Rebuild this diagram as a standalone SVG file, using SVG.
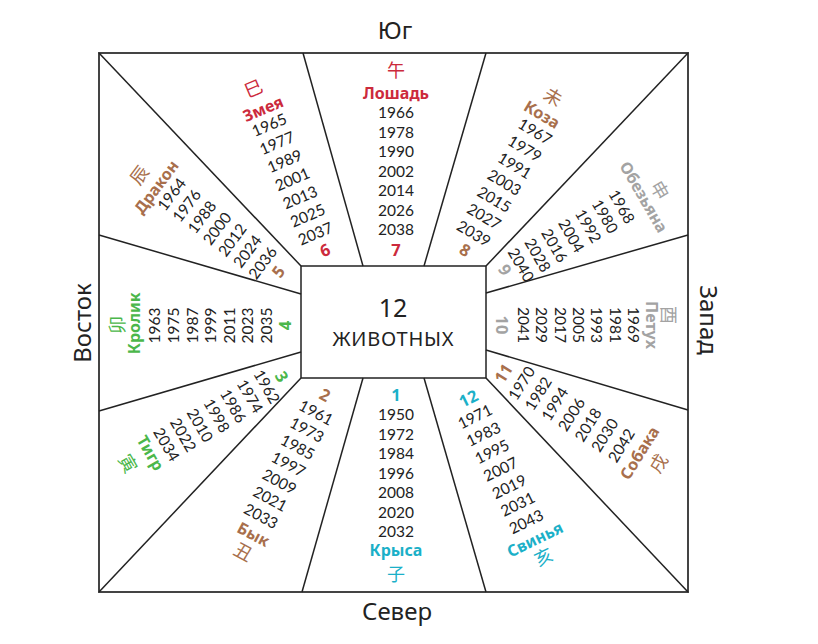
<svg xmlns="http://www.w3.org/2000/svg" width="818" height="644" viewBox="0 0 818 644">
<style>
text{font-family:"Noto Sans","Open Sans","DejaVu Sans",sans-serif;text-anchor:middle;fill:#222}
.yr{font-family:Lato,"Noto Sans",sans-serif;font-size:15.5px}
.nm{font-size:16px;font-weight:700}
.num{font-size:16.5px;font-weight:700}
.cjk{font-family:"Noto Sans CJK SC","Noto Sans CJK JP",sans-serif;font-size:18px}
.side{font-size:24px}
.red{fill:#cc2a3c}
.brown{fill:#a86f4c}
.green{fill:#4bb74a}
.gray{fill:#a3a3a3}
.cyan{fill:#1bb0c8}
.ln{stroke:#222;stroke-width:1.5;fill:none}
</style>
<rect width="818" height="644" fill="#fff"/>
<g id="connectors">
<rect x="99" y="53" width="589" height="539" fill="none" stroke="#444" stroke-width="2"/>
<rect x="301" y="266" width="185" height="112" class="ln"/>
<line class="ln" x1="99" y1="53" x2="301" y2="266"/>
<line class="ln" x1="303" y1="53" x2="363" y2="266"/>
<line class="ln" x1="486" y1="53" x2="424" y2="266"/>
<line class="ln" x1="688" y1="53" x2="486" y2="266"/>
<line class="ln" x1="688" y1="235" x2="486" y2="293"/>
<line class="ln" x1="688" y1="410" x2="486" y2="350"/>
<line class="ln" x1="688" y1="592" x2="486" y2="378"/>
<line class="ln" x1="486" y1="592" x2="424" y2="378"/>
<line class="ln" x1="302" y1="592" x2="363" y2="378"/>
<line class="ln" x1="99" y1="592" x2="301" y2="378"/>
<line class="ln" x1="99" y1="411" x2="301" y2="352"/>
<line class="ln" x1="99" y1="235" x2="301" y2="294"/>
</g>
<g id="labels">
<text class="side" x="395" y="39">Юг</text>
<text class="side" x="397" y="620">Север</text>
<text class="side" transform="translate(91,323) rotate(-90)">Восток</text>
<text class="side" transform="translate(700,320) rotate(90)">Запад</text>
</g>
<g id="center">
<text x="393" y="317" font-size="25">12</text>
<text x="393" y="346" font-size="20" textLength="121" lengthAdjust="spacing">ЖИВОТНЫХ</text>
</g>
<g id="horse" transform="translate(396,112.7)">
<text class="cjk red" y="-35.9">午</text>
<text class="nm red" y="-14.2">Лошадь</text>
<text class="yr" y="5.4">1966</text>
<text class="yr" y="24.95">1978</text>
<text class="yr" y="44.5">1990</text>
<text class="yr" y="64.05">2002</text>
<text class="yr" y="83.6">2014</text>
<text class="yr" y="103.15">2026</text>
<text class="yr" y="122.7">2038</text>
<text class="num red" y="143.8">7</text>
</g>
<g id="snake" transform="translate(269.3,125) rotate(-23)">
<text class="cjk red" x="-0.4" y="-33.3">巳</text>
<text class="nm red" x="0.6" y="-11.6">Змея</text>
<text class="yr" y="5.4">1965</text>
<text class="yr" y="25.1">1977</text>
<text class="yr" y="44.8">1989</text>
<text class="yr" y="64.5">2001</text>
<text class="yr" y="84.2">2013</text>
<text class="yr" y="103.9">2025</text>
<text class="yr" y="123.6">2037</text>
<text class="num red" x="2.4" y="142.9">6</text>
</g>
<g id="dragon" transform="translate(171.7,194.3) rotate(-53)">
<text class="cjk brown" x="-4" y="-30.7">辰</text>
<text class="nm brown" x="-3.4" y="-11">Дракон</text>
<text class="yr" y="5.4">1964</text>
<text class="yr" y="24.4">1976</text>
<text class="yr" y="43.4">1988</text>
<text class="yr" y="62.4">2000</text>
<text class="yr" y="81.4">2012</text>
<text class="yr" y="100.4">2024</text>
<text class="yr" y="119.4">2036</text>
<text class="num brown" x="2.4" y="137.8">5</text>
</g>
<g id="rabbit" transform="translate(155,325.5) rotate(-90)">
<text class="cjk green" x="0.5" y="-31.5">卯</text>
<text class="nm green" x="2.2" y="-14.8">Кролик</text>
<text class="yr" y="5.4">1963</text>
<text class="yr" y="24">1975</text>
<text class="yr" y="42.6">1987</text>
<text class="yr" y="61.2">1999</text>
<text class="yr" y="79.8">2011</text>
<text class="yr" y="98.4">2023</text>
<text class="yr" y="117">2035</text>
<text class="num green" y="136">4</text>
</g>
<g id="tiger" transform="translate(266.7,386.7) rotate(60)">
<text class="num green" x="-1.2" y="-12">3</text>
<text class="yr" y="5.4">1962</text>
<text class="yr" y="24.7">1974</text>
<text class="yr" y="44">1986</text>
<text class="yr" y="63.3">1998</text>
<text class="yr" y="82.6">2010</text>
<text class="yr" y="101.9">2022</text>
<text class="yr" y="121.2">2034</text>
<text class="nm green" x="-0.7" y="139.6">Тигр</text>
<text class="cjk green" x="-2.9" y="165">寅</text>
</g>
<g id="ox" transform="translate(316,412.7) rotate(28)">
<text class="num brown" x="-0.4" y="-13.8">2</text>
<text class="yr" y="5.4">1961</text>
<text class="yr" y="24.95">1973</text>
<text class="yr" y="44.5">1985</text>
<text class="yr" y="64.05">1997</text>
<text class="yr" y="83.6">2009</text>
<text class="yr" y="103.15">2021</text>
<text class="yr" y="122.7">2033</text>
<text class="nm brown" x="2" y="142.6">Бык</text>
<text class="cjk brown" x="1" y="163.6">丑</text>
</g>
<g id="rat" transform="translate(396,415)">
<text class="num cyan" y="-14">1</text>
<text class="yr" y="5.4">1950</text>
<text class="yr" y="24.85">1972</text>
<text class="yr" y="44.3">1984</text>
<text class="yr" y="63.75">1996</text>
<text class="yr" y="83.2">2008</text>
<text class="yr" y="102.65">2020</text>
<text class="yr" y="122.1">2032</text>
<text class="nm cyan" y="140.6">Крыса</text>
<text class="cjk cyan" y="165.6">子</text>
</g>
<g id="pig" transform="translate(475,416.7) rotate(-26)">
<text class="num cyan" x="2.1" y="-13.4">12</text>
<text class="yr" y="5.4">1971</text>
<text class="yr" y="24.9">1983</text>
<text class="yr" y="44.4">1995</text>
<text class="yr" y="63.9">2007</text>
<text class="yr" y="83.4">2019</text>
<text class="yr" y="102.9">2031</text>
<text class="yr" y="122.4">2043</text>
<text class="nm cyan" y="142.3">Свинья</text>
<text class="cjk cyan" y="162.6">亥</text>
</g>
<g id="dog" transform="translate(521.7,383.3) rotate(-58)">
<text class="num brown" x="-1.3" y="-14.9">11</text>
<text class="yr" y="5.4">1970</text>
<text class="yr" y="25">1982</text>
<text class="yr" y="44.6">1994</text>
<text class="yr" y="64.2">2006</text>
<text class="yr" y="83.8">2018</text>
<text class="yr" y="103.4">2030</text>
<text class="yr" y="123">2042</text>
<text class="nm brown" x="3.3" y="142.6">Собака</text>
<text class="cjk brown" x="4.6" y="165">戌</text>
</g>
<g id="rooster" transform="translate(633.3,325) rotate(90)">
<text class="cjk gray" x="-10" y="-28.9">酉</text>
<text class="nm gray" y="-13.2">Петух</text>
<text class="yr" y="5.4">1969</text>
<text class="yr" y="23.7">1981</text>
<text class="yr" y="42">1993</text>
<text class="yr" y="60.3">2005</text>
<text class="yr" y="78.6">2017</text>
<text class="yr" y="96.9">2029</text>
<text class="yr" y="115.2">2041</text>
<text class="num gray" y="137.6">10</text>
</g>
<g id="monkey" transform="translate(621.7,206.7) rotate(60)">
<text class="cjk gray" x="4.7" y="-34.7">申</text>
<text class="nm gray" x="2.7" y="-18.2">Обезьяна</text>
<text class="yr" y="5.4">1968</text>
<text class="yr" y="24.8">1980</text>
<text class="yr" y="44.2">1992</text>
<text class="yr" y="63.6">2004</text>
<text class="yr" y="83">2016</text>
<text class="yr" y="102.4">2028</text>
<text class="yr" y="121.8">2040</text>
<text class="num gray" x="-3.6" y="138.7">9</text>
</g>
<g id="goat" transform="translate(535,131.7) rotate(31)">
<text class="cjk brown" x="-2.3" y="-32.6">未</text>
<text class="nm brown" x="-2.9" y="-12.6">Коза</text>
<text class="yr" y="5.4">1967</text>
<text class="yr" y="25.2">1979</text>
<text class="yr" y="45">1991</text>
<text class="yr" y="64.8">2003</text>
<text class="yr" y="84.6">2015</text>
<text class="yr" y="104.4">2027</text>
<text class="yr" y="124.2">2039</text>
<text class="num brown" x="0.9" y="143.4">8</text>
</g>
</svg>
